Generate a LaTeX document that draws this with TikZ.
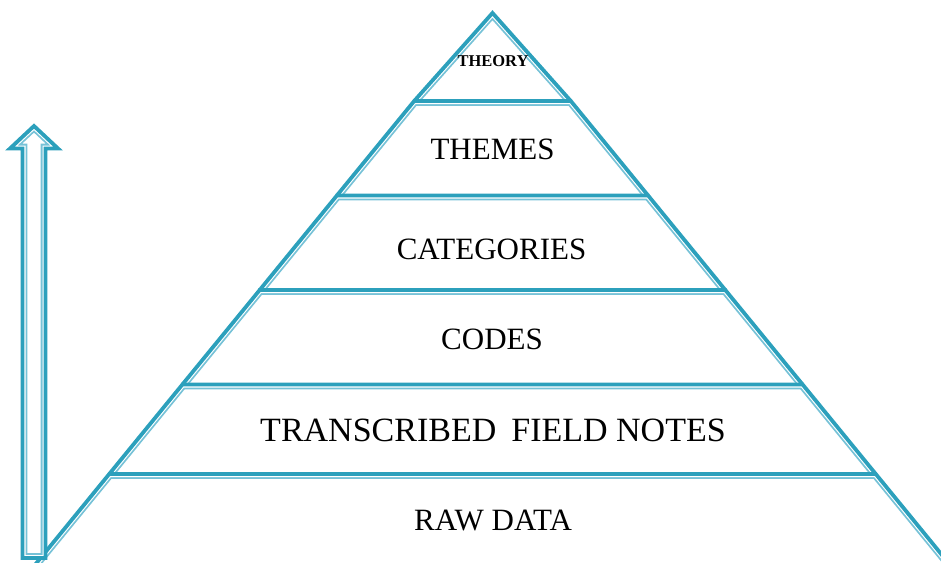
\documentclass[tikz,border=0pt]{standalone}
\usepackage{fontspec}
\setmainfont{Liberation Serif}
\definecolor{edge}{RGB}{44,160,188}
\definecolor{edgelight}{RGB}{118,194,215}
\tikzset{
  outerline/.style={draw=edge, line width=3.8pt, line join=miter},
  innerline/.style={draw=edgelight, line width=9.6pt, line join=miter},
  gapline/.style={draw=white, line width=6pt, line join=miter},
  label/.style={font=\fontsize{31}{34}\selectfont, anchor=base, inner sep=0pt},
}
% one tier of the pyramid, given as its open outline (left, top, right)
\newcommand{\tier}[1]{%
  \begin{scope}
    \clip #1 -- cycle;
    \draw[innerline] #1;
    \draw[gapline] #1;
  \end{scope}
  \draw[outerline] #1;
}
\begin{document}
\begin{tikzpicture}[x=1pt, y=-1pt]
  \useasboundingbox (0,0) rectangle (941,562);
  \begin{scope}
    \clip (0,0) rectangle (941,562);
    % apex triangle
    \tier{(414.2,101) -- (492.5,13) -- (570.8,101)}
    % tiers from top to bottom
    \tier{(336.9,195.5) -- (414.2,101) -- (570.8,101) -- (648.1,195.5)}
    \tier{(259.7,290) -- (336.9,195.5) -- (648.1,195.5) -- (725.3,290)}
    \tier{(182.4,384.5) -- (259.7,290) -- (725.3,290) -- (802.6,384.5)}
    \tier{(109.25,474) -- (182.4,384.5) -- (802.6,384.5) -- (875.75,474)}
    \tier{(6.25,600) -- (109.25,474) -- (875.75,474) -- (978.75,600)}
    % upward block arrow
    \fill[white] (34,126) -- (58,148.5) -- (45.5,148.5) -- (45.5,558) -- (22.5,558)
      -- (22.5,148.5) -- (10,148.5) -- cycle;
    \tier{(34,126) -- (58,148.5) -- (45.5,148.5) -- (45.5,558) -- (22.5,558)
      -- (22.5,148.5) -- (10,148.5) -- cycle}
  \end{scope}
  % labels
  \node[label, font=\fontsize{16.5}{18}\selectfont\bfseries] (theory) at (493,66) {THEORY};
  \node[label] (themes) at (492.5,159) {THEMES};
  \node[label] (categories) at (491.5,259) {CATEGORIES};
  \node[label] (codes) at (492,349) {CODES};
  \node[label, font=\fontsize{34}{36}\selectfont] (notes) at (493,441) {TRANSCRIBED\hspace{15pt}FIELD NOTES};
  \node[label] (raw) at (493,530) {RAW DATA};
\end{tikzpicture}
\end{document}
